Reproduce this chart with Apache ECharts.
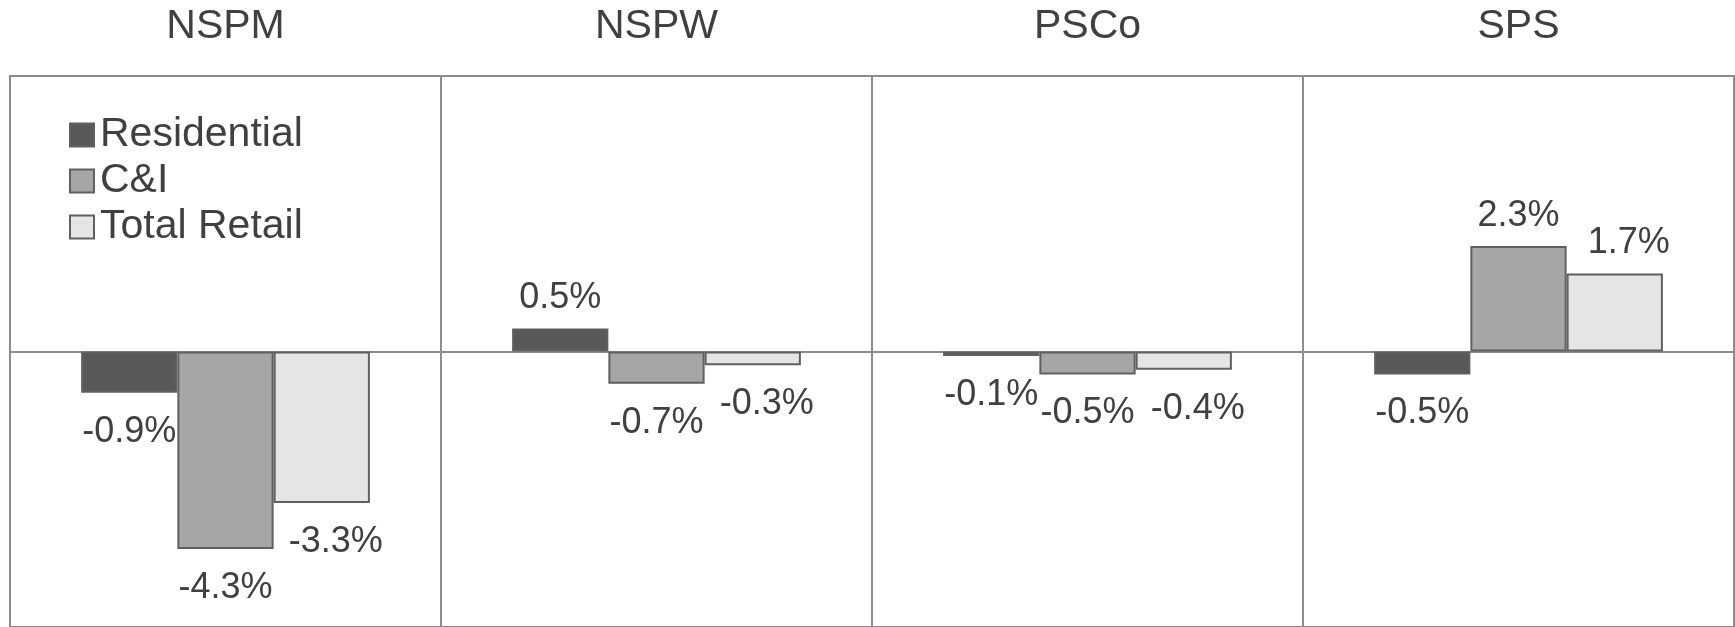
<!DOCTYPE html>
<html>
<head>
<meta charset="utf-8">
<script src="https://cdn.jsdelivr.net/npm/echarts@6/dist/echarts.min.js"></script>
<style>
  html, body { margin: 0; padding: 0; background: #fff; }
  #chart { width: 1735px; height: 627px; }
</style>
</head>
<body>
<div id="chart"></div>
<script>
// 数据
var regions = ['NSPM', 'NSPW', 'PSCo', 'SPS'];
var seriesNames = ['Residential', 'C&I', 'Total Retail'];
var residential = [-0.9, 0.5, -0.1, -0.5];
var cAndI = [-4.3, -0.7, -0.5, 2.3];
var totalRetail = [-3.3, -0.3, -0.4, 1.7];
var yTicks = [-6, 0, 6];

var textColor = '#404040';
var lineColor = '#8c8c90';
var fontFamily = '"Liberation Sans", Arial, sans-serif';

// 正值标签在上, 负值标签在下
function withLabels(values, shiftX) {
  return values.map(function (v) {
    return {
      value: v,
      label: {
        position: v >= 0 ? 'top' : 'bottom',
        distance: v >= 0 ? 12 : 21,
        offset: [shiftX, 0]
      }
    };
  });
}

function makeSeries(name, values, color, shiftX) {
  return {
    name: name,
    type: 'bar',
    barGap: '0%',
    barCategoryGap: '33%',
    itemStyle: { color: color, borderColor: '#606060', borderWidth: 2 },
    label: {
      show: true,
      color: textColor,
      fontSize: 36,
      fontFamily: fontFamily,
      formatter: function (p) { return p.value.toFixed(1) + '%'; }
    },
    data: withLabels(values, shiftX)
  };
}

var myChart = echarts.init(document.getElementById('chart'));
var option = {
  animation: false,
  backgroundColor: '#fff',
  legend: {
    orient: 'vertical',
    left: 64,
    top: 107,
    itemWidth: 24,
    itemHeight: 23,
    itemGap: 0,
    icon: 'rect',
    data: seriesNames,
    textStyle: {
      color: textColor,
      fontSize: 41,
      fontFamily: fontFamily,
      lineHeight: 46,
      padding: [0, 0, 0, 1]
    }
  },
  grid: {
    left: 10,
    right: 1,
    top: 76,
    bottom: -2,
    show: true,
    borderColor: lineColor,
    borderWidth: 2,
    containLabel: false
  },
  xAxis: {
    type: 'category',
    position: 'top',
    data: regions,
    axisLine: { show: false },
    axisTick: { show: false },
    axisLabel: {
      color: textColor,
      fontSize: 41,
      fontFamily: fontFamily,
      margin: 29
    },
    splitLine: { show: true, lineStyle: { color: lineColor, width: 2 } }
  },
  yAxis: {
    type: 'value',
    min: yTicks[0],
    max: yTicks[yTicks.length - 1],
    interval: 6,
    axisLabel: { show: false },
    axisLine: { show: false },
    axisTick: { show: false },
    splitLine: { show: true, lineStyle: { color: lineColor, width: 2 } }
  },
  series: [
    makeSeries(seriesNames[0], residential, '#595959', 0),
    makeSeries(seriesNames[1], cAndI, '#a6a6a6', 0),
    makeSeries(seriesNames[2], totalRetail, '#e4e5e7', 14)
  ]
};
myChart.setOption(option);
</script>
</body>
</html>
